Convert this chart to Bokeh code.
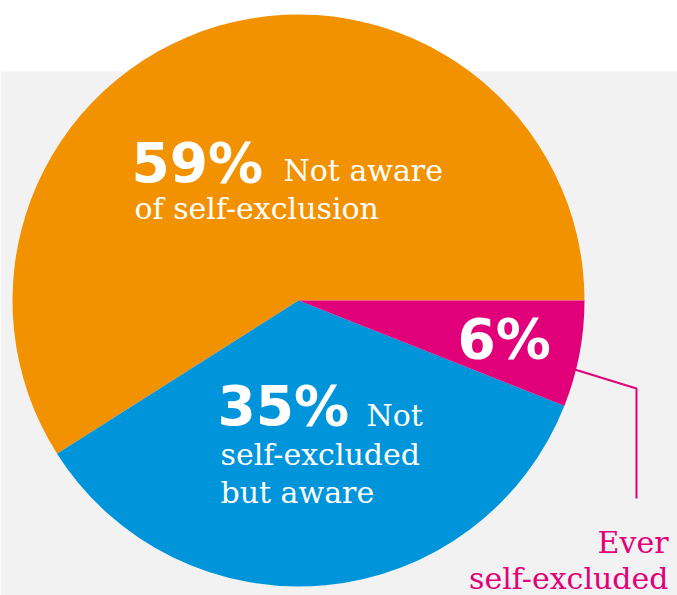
import math
from bokeh.plotting import figure
from bokeh.models import Range1d, ColumnDataSource
from bokeh.core.properties import value
from bokeh.embed import file_html
from bokeh.resources import INLINE

# ---- data ----
categories = ["Not aware of self-exclusion", "Not self-excluded but aware", "Ever self-excluded"]
shares = [59, 35, 6]
colors = ["#F39200", "#0095DA", "#E2007A"]

# ---- layout (reference pixel space, y flipped for bokeh) ----
W, H = 677, 595
def Y(y):
    return H - y

cx, cy, R = 298, 300, 286

total = sum(shares)
starts, ends = [], []
acc = 0.0
for s in shares:
    starts.append(2 * math.pi * acc / total)
    acc += s
    ends.append(2 * math.pi * acc / total)

src = ColumnDataSource(dict(cat=categories, share=shares, color=colors,
                            start=starts, end=ends))

p = figure(width=W, height=H, output_backend="svg", toolbar_location=None,
           x_range=Range1d(0, W), y_range=Range1d(0, H),
           min_border=0, background_fill_color="white", border_fill_color="white")
p.axis.visible = False
p.grid.visible = False
p.outline_line_color = None

# gray panel
p.quad(left=[0], right=[W], bottom=[Y(H)], top=[Y(71)], fill_color="#F2F2F2", line_color=None)

p.wedge(x=cx, y=Y(cy), radius=R, start_angle="start", end_angle="end",
        fill_color="color", line_color=None, source=src)

# leader line for smallest slice
a = (starts[2] + ends[2]) / 2 - math.radians(3)
sx, sy = cx + R * math.cos(a), Y(cy) + R * math.sin(a)
p.line(x=[sx - 4, 636, 636], y=[sy, Y(388), Y(498)], line_color=colors[2], line_width=2)

bold = value("DejaVu Sans")
serif = value("DejaVu Serif")

PCT_SHIFT = 18
LAB_SHIFT = 10

def pct(x, y, s):
    p.text(x=[x], y=[Y(y - PCT_SHIFT)], text=[s], text_font=bold, text_font_style="bold",
           text_font_size="55px", text_color="white", text_baseline="alphabetic")

def lab(x, y, s, color="white", align="left"):
    p.text(x=[x], y=[Y(y - LAB_SHIFT)], text=[s], text_font=serif, text_font_size="30px",
           text_color=color, text_baseline="alphabetic", text_align=align)

pct(131, 180, f"{shares[0]}%")
lab(283, 180, "Not aware")
lab(134, 218, "of self-exclusion")

pct(217, 423, f"{shares[1]}%")
lab(366, 425, "Not")
lab(220, 464, "self-excluded")
lab(220, 502, "but aware")

pct(457, 356, f"{shares[2]}%")

lab(668, 552, "Ever", color=colors[2], align="right")
lab(668, 588, "self-excluded", color=colors[2], align="right")

open("out.html", "w").write(file_html(p, INLINE))
